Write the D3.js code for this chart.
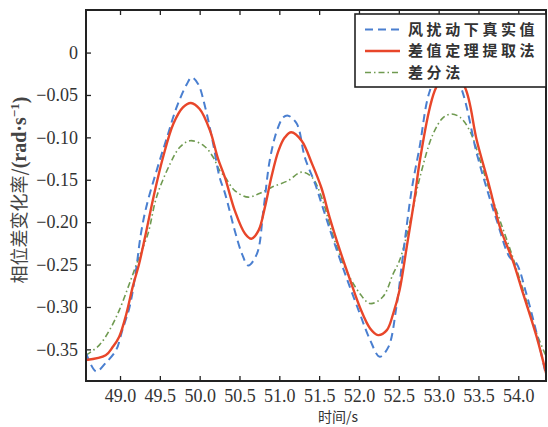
<!DOCTYPE html>
<html><head><meta charset="utf-8">
<script src="https://cdn.jsdelivr.net/npm/d3@7"></script>
<style>
html,body{margin:0;padding:0;background:#fff;}
svg{display:block;}
</style></head>
<body>
<script>
// ---- data ----
const xTicks = [49.0, 49.5, 50.0, 50.5, 51.0, 51.5, 52.0, 52.5, 53.0, 53.5, 54.0];
const yTicks = [0, -0.05, -0.10, -0.15, -0.20, -0.25, -0.30, -0.35];
const seriesNames = ["风扰动下真实值", "差值定理提取法", "差分法"];

const trueT = [48.573,48.70,48.82,48.95,49.03,49.12,49.20,49.26,49.33,49.46,49.59,49.71,49.84,49.90,49.98,50.07,50.17,50.25,50.32,50.44,50.53,50.61,50.72,50.80,50.88,50.97,51.05,51.11,51.22,51.32,51.45,51.55,51.68,51.84,52.01,52.14,52.26,52.37,52.47,52.55,52.66,52.76,52.89,53.09,53.28,53.48,53.60,53.73,53.89,53.98,54.10,54.23,54.36];
const trueV = [-0.354,-0.376,-0.366,-0.351,-0.327,-0.300,-0.257,-0.215,-0.182,-0.139,-0.100,-0.0647,-0.037,-0.0294,-0.037,-0.0647,-0.108,-0.147,-0.1666,-0.2097,-0.237,-0.251,-0.237,-0.186,-0.127,-0.092,-0.0764,-0.0744,-0.084,-0.1235,-0.155,-0.184,-0.2215,-0.2646,-0.3077,-0.339,-0.3587,-0.347,-0.300,-0.241,-0.1627,-0.112,-0.045,-0.008,-0.041,-0.1195,-0.159,-0.198,-0.241,-0.249,-0.284,-0.331,-0.386];

const extT = [48.573,48.82,48.91,48.99,49.08,49.16,49.24,49.32,49.42,49.54,49.67,49.79,49.89,50.00,50.13,50.23,50.32,50.44,50.57,50.65,50.74,50.82,50.90,50.99,51.07,51.15,51.28,51.41,51.53,51.63,51.76,51.89,52.01,52.14,52.24,52.35,52.43,52.51,52.60,52.70,52.76,52.89,52.97,53.14,53.33,53.48,53.64,53.77,53.93,54.06,54.23,54.37];
const extV = [-0.3626,-0.357,-0.347,-0.335,-0.308,-0.276,-0.249,-0.215,-0.1705,-0.1235,-0.084,-0.0647,-0.0595,-0.0666,-0.092,-0.125,-0.148,-0.186,-0.2136,-0.2195,-0.2097,-0.182,-0.147,-0.1156,-0.100,-0.094,-0.104,-0.131,-0.160,-0.194,-0.233,-0.2685,-0.300,-0.3253,-0.3332,-0.3273,-0.3077,-0.280,-0.229,-0.1705,-0.130,-0.0647,-0.041,-0.018,-0.041,-0.104,-0.1588,-0.206,-0.245,-0.284,-0.335,-0.386];

const diffT = [48.573,48.74,48.87,48.99,49.12,49.24,49.35,49.46,49.63,49.75,49.88,50.05,50.17,50.25,50.32,50.44,50.61,50.74,50.90,51.11,51.28,51.41,51.53,51.68,51.84,52.01,52.14,52.30,52.43,52.51,52.64,52.76,52.93,53.06,53.16,53.27,53.39,53.52,53.64,53.77,53.93,54.06,54.23,54.37];
const diffV = [-0.357,-0.345,-0.327,-0.304,-0.272,-0.241,-0.214,-0.170,-0.131,-0.1117,-0.1039,-0.1097,-0.1235,-0.139,-0.147,-0.1627,-0.1705,-0.1666,-0.159,-0.151,-0.141,-0.147,-0.1705,-0.2176,-0.2567,-0.284,-0.296,-0.288,-0.2607,-0.245,-0.200,-0.149,-0.096,-0.0764,-0.0725,-0.0764,-0.092,-0.127,-0.1627,-0.198,-0.241,-0.280,-0.331,-0.3626];

// ---- layout ----
const W = 548, H = 427;
const L = 86, T = 10, R = 546, B = 381;
const svg = d3.select("body").append("svg").attr("width", W).attr("height", H);

const x = d3.scaleLinear().domain([48.573, 54.348]).range([L, R]);
const y = d3.scaleLinear().domain([0.0502, -0.3873]).range([T, B]);

const colors = ["#4a7fd0", "#e8462a", "#6f9a50"];
const dashes = ["8,5", null, "6,3,1.5,3"];
const widths = [2, 2.4, 1.6];

svg.append("defs").append("clipPath").attr("id","clip")
  .append("rect").attr("x", L).attr("y", T).attr("width", R-L).attr("height", B-T);

const line = d3.line().x(d => x(d[0])).y(d => y(d[1])).curve(d3.curveCatmullRom.alpha(0.5));
const data = [d3.zip(trueT, trueV), d3.zip(extT, extV), d3.zip(diffT, diffV)];
const order = [2, 0, 1];
const g = svg.append("g").attr("clip-path", "url(#clip)");
order.forEach(i => {
  g.append("path").datum(data[i]).attr("d", line)
    .attr("fill","none").attr("stroke", colors[i]).attr("stroke-width", widths[i])
    .attr("stroke-dasharray", dashes[i]).attr("stroke-linejoin","round");
});

// axes (inward ticks)
const fmtY = v => v === 0 ? "0" : "\u2212" + Math.abs(v).toFixed(2);
const axB = svg.append("g").attr("transform", `translate(0,${B})`)
  .call(d3.axisBottom(x).tickValues(xTicks).tickSizeInner(-5).tickSizeOuter(0).tickPadding(8).tickFormat(d => d.toFixed(1)));
const axT = svg.append("g").attr("transform", `translate(0,${T})`)
  .call(d3.axisTop(x).tickValues(xTicks).tickSizeInner(-5).tickSizeOuter(0).tickFormat(""));
const axL = svg.append("g").attr("transform", `translate(${L},0)`)
  .call(d3.axisLeft(y).tickValues(yTicks).tickSizeInner(-5).tickSizeOuter(0).tickPadding(8).tickFormat(fmtY));
[axB, axT, axL].forEach(a => {
  a.select(".domain").remove();
  a.selectAll(".tick line").attr("stroke", "#222").attr("stroke-width", 1.3);
  a.selectAll("text").attr("fill", "#333").style("font-family", "'Liberation Serif','Times New Roman',serif").style("font-size", "18px");
});

// frame
svg.append("rect").attr("x", L).attr("y", T).attr("width", R-L).attr("height", B-T)
  .attr("fill","none").attr("stroke","#222").attr("stroke-width", 2);

// legend
const lg = svg.append("g");
lg.append("rect").attr("x", 355).attr("y", 14).attr("width", 546-355).attr("height", 87-14)
  .attr("fill","#fff").attr("stroke","#222").attr("stroke-width", 1.6);
seriesNames.forEach((name, i) => {
  const cy = 29.5 + i * 21.5;
  lg.append("line").attr("x1", 365).attr("x2", 400).attr("y1", cy).attr("y2", cy)
    .attr("stroke", colors[i]).attr("stroke-width", widths[i]).attr("stroke-dasharray", dashes[i]);
  lg.append("text").attr("x", 408).attr("y", cy).attr("dy", "0.36em")
    .attr("fill","#333").style("font-family","'Noto Sans CJK SC',sans-serif").style("font-size","15px")
    .style("letter-spacing","3.6px").style("font-weight","bold")
    .text(name);
});

// axis titles
svg.append("text").attr("x", 338).attr("y", 417).attr("dy","0.34em").attr("text-anchor","middle")
  .attr("fill","#333").style("font-family","'Noto Sans CJK SC','Liberation Serif',serif").style("font-size","14px")
  .text("时间/s");

const yl = svg.append("text").attr("transform", "translate(20,190) rotate(-90)").attr("text-anchor","middle")
  .attr("dy","0.36em").attr("fill","#444")
  .style("font-family","'Noto Sans CJK SC',sans-serif").style("font-size","18px");
yl.append("tspan").text("相位差变化率/");
yl.append("tspan").style("font-family","'Liberation Serif',serif").style("font-size","20px").style("font-weight","bold").text("(rad·s");
yl.append("tspan").style("font-family","'Liberation Serif',serif").style("font-size","13px").style("font-weight","bold").attr("dy","-0.6em").text("\u22121");
yl.append("tspan").style("font-family","'Liberation Serif',serif").style("font-size","20px").style("font-weight","bold").attr("dy","0.4em").text(")");
</script>
</body></html>
